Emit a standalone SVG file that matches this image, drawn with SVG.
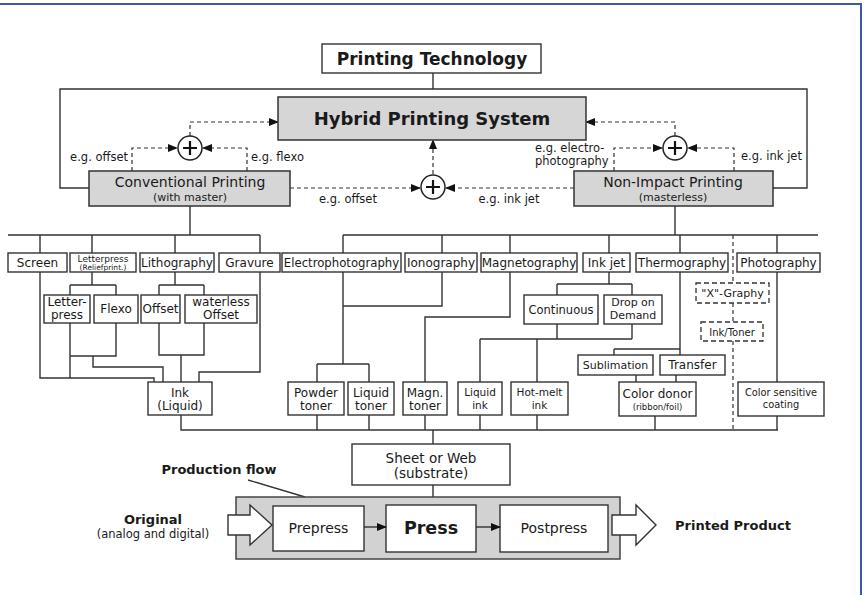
<svg xmlns="http://www.w3.org/2000/svg" width="865" height="595" viewBox="0 0 865 595">
<defs>
<marker id="ah" markerWidth="10" markerHeight="8" refX="9" refY="4" orient="auto" markerUnits="userSpaceOnUse">
<path d="M0,0 L10,4 L0,8 Z" fill="#111"/>
</marker>
</defs>
<style>
text{font-family:"DejaVu Sans","Liberation Sans",sans-serif;fill:#1a1a1a;text-anchor:middle}
.b{fill:#fff;stroke:#333;stroke-width:1.4}
.g{fill:#d6d6d6;stroke:#333;stroke-width:1.5}
.d{fill:#fff;stroke:#333;stroke-width:1.3;stroke-dasharray:5,3}
.l{fill:none;stroke:#333;stroke-width:1.4}
.dl{fill:none;stroke:#333;stroke-width:1.2;stroke-dasharray:4,3}
.c{fill:#fff;stroke:#222;stroke-width:1.5}
.pl{fill:none;stroke:#111;stroke-width:2.2}
.s12{font-size:12px}
.s11{font-size:11px}
.lab{font-size:11.5px}
.bold{font-weight:bold}
</style>
<rect width="865" height="595" fill="#fff"/>
<path d="M0,4 H861 V595" fill="none" stroke="#3b58a8" stroke-width="2"/>

<g id="connectors">
<path class="l" d="M433,73 V89"/>
<path class="l" d="M89,188 H60 V89 H807 V188 H773"/>
<path class="l" d="M190,206 V235 M8,235 H260 M40,235 V253 M92,235 V253 M175,235 V253 M260,235 V253"/>
<path class="l" d="M675,206 V235 M343,235 H818 M343,235 V253 M442,235 V253 M510,235 V253 M609,235 V253 M680,235 V253 M777,235 V253"/>
<path class="l" d="M92,272 V285 M70,285 H116 M70,285 V295 M116,285 V295"/>
<path class="l" d="M175,272 V285 M159,285 H204 M159,285 V295 M204,285 V295"/>
<path class="l" d="M70,323 V378 M40,272 V378 H154 V382"/>
<path class="l" d="M116,323 V356 H70 M93,356 V367 H163 V382"/>
<path class="l" d="M159,323 V355 H204 V323 M181,355 V382"/>
<path class="l" d="M260,272 V372 H199 V382"/>
<path class="l" d="M181,415 V430 H778"/>
<path class="l" d="M343,272 V306 H442 V272 M343,306 V364 M317,364 H369 M317,364 V382 M369,364 V382"/>
<path class="l" d="M510,272 V317 H425 V382"/>
<path class="l" d="M609,272 V284 M557,284 H632 M557,284 V295 M632,284 V295"/>
<path class="l" d="M557,324 V339 M632,324 V339 M480,339 H632 M480,339 V382 M537,339 V382"/>
<path class="l" d="M680,272 V355 M614,349 H680 M614,349 V355 M636,375 V382 M676,375 V382"/>
<path class="l" d="M777,272 V382"/>
<path class="dl" d="M733,235 V283 M733,303 V322 M733,341 V430"/>
<path class="l" d="M317,415 V430 M369,415 V430 M425,415 V430 M480,415 V430 M537,415 V430 M655,416 V430 M777,416 V430"/>
<path class="l" d="M433,430 V444 M433,485 V505"/>
<path class="dl" d="M132,171 V148 H177" marker-end="url(#ah)"/>
<path class="dl" d="M247,171 V148 H203" marker-end="url(#ah)"/>
<path class="dl" d="M190,136 V122 H278" marker-end="url(#ah)"/>
<path class="dl" d="M614,171 V148 H662" marker-end="url(#ah)"/>
<path class="dl" d="M734,171 V148 H688" marker-end="url(#ah)"/>
<path class="dl" d="M675,136 V122 H586" marker-end="url(#ah)"/>
<path class="dl" d="M290,188 H420" marker-end="url(#ah)"/>
<path class="dl" d="M574,188 H446" marker-end="url(#ah)"/>
<path class="dl" d="M433,174 V140" marker-end="url(#ah)"/>
<path class="l" d="M248,480 L305,497"/>
</g>

<g id="printing-technology"><rect class="b" x="322" y="44" width="219" height="29"/><text x="432" y="65" font-size="17" class="bold">Printing Technology</text></g>
<g id="hybrid"><rect class="g" x="278" y="97" width="308" height="43"/><text x="432" y="125" font-size="18" class="bold">Hybrid Printing System</text></g>
<g id="conventional"><rect class="g" x="89" y="171" width="201" height="35"/><text x="190" y="187" font-size="14">Conventional Printing</text><text x="190" y="201" class="s11">(with master)</text></g>
<g id="nonimpact"><rect class="g" x="574" y="171" width="199" height="35"/><text x="673" y="187" font-size="14">Non-Impact Printing</text><text x="673" y="201" class="s11">(masterless)</text></g>

<g id="plus-left"><circle class="c" cx="190" cy="148" r="12"/><path class="pl" d="M183,148 H197 M190,141 V155"/></g>
<g id="plus-right"><circle class="c" cx="675" cy="148" r="12"/><path class="pl" d="M668,148 H682 M675,141 V155"/></g>
<g id="plus-mid"><circle class="c" cx="433" cy="187" r="12"/><path class="pl" d="M426,187 H440 M433,180 V194"/></g>

<g id="labels">
<text x="128" y="161" class="lab" style="text-anchor:end">e.g. offset</text>
<text x="251" y="161" class="lab" style="text-anchor:start">e.g. flexo</text>
<text x="348" y="203" class="lab">e.g. offset</text>
<text x="509" y="203" class="lab">e.g. ink jet</text>
<text x="535" y="152" class="lab" style="text-anchor:start">e.g. electro-</text>
<text x="535" y="165" class="lab" style="text-anchor:start">photography</text>
<text x="741" y="160" class="lab" style="text-anchor:start">e.g. ink jet</text>
</g>

<g id="screen"><rect class="b" x="8" y="253" width="59" height="19"/><text x="37.5" y="267" class="s12">Screen</text></g>
<g id="letterpress-rp"><rect class="b" x="70" y="253" width="66" height="19"/><text x="103" y="262" font-size="9">Letterpress</text><text x="103" y="270" font-size="7.5">(Reliefprint.)</text></g>
<g id="lithography"><rect class="b" x="140" y="253" width="74" height="19"/><text x="177" y="267" class="s12">Lithography</text></g>
<g id="gravure"><rect class="b" x="219" y="253" width="61" height="19"/><text x="249.5" y="267" class="s12">Gravure</text></g>
<g id="electrophotography"><rect class="b" x="282" y="253" width="119" height="19"/><text x="341.5" y="267" font-size="11.7">Electrophotography</text></g>
<g id="ionography"><rect class="b" x="405" y="253" width="72" height="19"/><text x="441" y="267" class="s12">Ionography</text></g>
<g id="magnetography"><rect class="b" x="481" y="253" width="96" height="19"/><text x="529" y="267" class="s12">Magnetography</text></g>
<g id="inkjet"><rect class="b" x="583" y="253" width="47" height="19"/><text x="606.5" y="267" class="s12">Ink jet</text></g>
<g id="thermography"><rect class="b" x="636" y="253" width="92" height="19"/><text x="682" y="267" class="s12">Thermography</text></g>
<g id="photography"><rect class="b" x="737" y="253" width="83" height="19"/><text x="778.5" y="267" class="s12">Photography</text></g>

<g id="letter-press"><rect class="b" x="44" y="295" width="46" height="28"/><text x="67" y="306" class="s12">Letter-</text><text x="67" y="319" class="s12">press</text></g>
<g id="flexo"><rect class="b" x="94" y="295" width="44" height="28"/><text x="116" y="313" class="s12">Flexo</text></g>
<g id="offset"><rect class="b" x="141" y="295" width="39" height="28"/><text x="160.5" y="313" class="s12">Offset</text></g>
<g id="waterless"><rect class="b" x="185" y="295" width="72" height="28"/><text x="221" y="306" class="s12">waterless</text><text x="221" y="319" class="s12">Offset</text></g>
<g id="continuous"><rect class="b" x="524" y="295" width="74" height="29"/><text x="561" y="314" font-size="11.5">Continuous</text></g>
<g id="dod"><rect class="b" x="604" y="295" width="58" height="29"/><text x="633" y="306" class="s11">Drop on</text><text x="633" y="319" class="s11">Demand</text></g>
<g id="xgraphy"><rect class="d" x="696" y="283" width="73" height="20"/><text x="732.5" y="297" class="s11">"X"-Graphy</text></g>
<g id="inktoner"><rect class="d" x="701" y="322" width="62" height="19"/><text x="732" y="335.5" font-size="10">Ink/Toner</text></g>
<g id="sublimation"><rect class="b" x="578" y="355" width="75" height="20"/><text x="615.5" y="369" class="s11">Sublimation</text></g>
<g id="transfer"><rect class="b" x="660" y="355" width="65" height="20"/><text x="692.5" y="369" class="s12">Transfer</text></g>

<g id="ink-liquid"><rect class="b" x="148" y="382" width="64" height="33"/><text x="180" y="397" class="s12">Ink</text><text x="180" y="410" class="s12">(Liquid)</text></g>
<g id="powder"><rect class="b" x="288" y="382" width="56" height="33"/><text x="316" y="397" class="s12">Powder</text><text x="316" y="410" class="s12">toner</text></g>
<g id="liquid-toner"><rect class="b" x="348" y="382" width="46" height="33"/><text x="371" y="397" class="s12">Liquid</text><text x="371" y="410" class="s12">toner</text></g>
<g id="magn-toner"><rect class="b" x="403" y="382" width="44" height="33"/><text x="425" y="397" class="s12">Magn.</text><text x="425" y="410" class="s12">toner</text></g>
<g id="liquid-ink"><rect class="b" x="458" y="382" width="44" height="33"/><text x="480" y="396" font-size="10.5">Liquid</text><text x="480" y="409" font-size="10.5">ink</text></g>
<g id="hotmelt"><rect class="b" x="511" y="382" width="57" height="33"/><text x="539.5" y="396" font-size="10.5">Hot-melt</text><text x="539.5" y="409" font-size="10.5">ink</text></g>
<g id="colordonor"><rect class="b" x="619" y="382" width="77" height="34"/><text x="657.5" y="398" class="s12">Color donor</text><text x="657.5" y="410" font-size="8.5">(ribbon/foil)</text></g>
<g id="colorsens"><rect class="b" x="738" y="382" width="86" height="34"/><text x="781" y="396" font-size="9.8">Color sensitive</text><text x="781" y="408" font-size="9.8">coating</text></g>

<g id="sheet"><rect class="b" x="352" y="444" width="158" height="41"/><text x="431" y="463" font-size="13.5">Sheet or Web</text><text x="431" y="478" font-size="13.5">(substrate)</text></g>

<g id="production">
<rect x="236" y="497" width="384" height="62" fill="#d2d2d2" stroke="#444" stroke-width="1.5"/>
<polygon class="b" points="228,515 250,515 250,505 272,525 250,545 250,535 228,535"/>
<polygon class="b" points="612,515 636,515 636,505 656,525 636,545 636,535 612,535"/>
</g>
<g id="prepress"><rect class="b" x="273" y="506" width="91" height="45"/><text x="318.5" y="533" font-size="14">Prepress</text></g>
<g id="press"><rect class="b" x="386" y="505" width="90" height="47"/><text x="431" y="534" font-size="17.5" class="bold">Press</text></g>
<g id="postpress"><rect class="b" x="500" y="505" width="108" height="47"/><text x="554" y="533" font-size="14">Postpress</text></g>
<g id="flow-arrows">
<path class="l" d="M364,527 H386" marker-end="url(#ah)"/>
<path class="l" d="M476,527 H500" marker-end="url(#ah)"/>
</g>
<g id="texts">
<text x="219" y="474" font-size="13" class="bold">Production flow</text>
<text x="153" y="524" font-size="13" class="bold">Original</text>
<text x="153" y="538" font-size="11.5">(analog and digital)</text>
<text x="733" y="530" font-size="13" class="bold">Printed Product</text>
</g>
</svg>
